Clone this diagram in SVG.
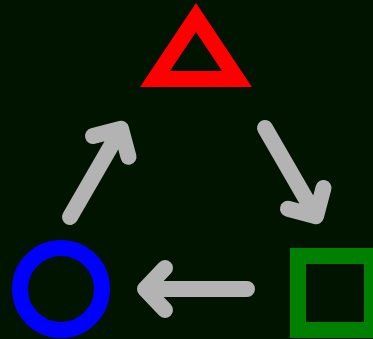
<svg xmlns="http://www.w3.org/2000/svg" width="373" height="339" viewBox="0 0 373 339">
<style>
.arrow{fill:none;stroke:#b3b3b3;stroke-width:16;stroke-linecap:round;stroke-linejoin:round}
</style>
<rect width="373" height="339" fill="#001400"/>
<g id="triangle"><polygon points="196,17.5 155,79 237,79" fill="none" stroke="#ff0000" stroke-width="16"/></g>
<g id="square"><rect x="298" y="256" width="74" height="74" fill="none" stroke="#008000" stroke-width="16"/></g>
<g id="circle"><circle cx="61" cy="289" r="41" fill="none" stroke="#0000ff" stroke-width="16"/></g>
<g id="connectors">
<path class="arrow" d="M265,128 L316,216.3 M323.5,188 L316,216.3 L288,208.8"/>
<path class="arrow" d="M247,289 L145,289 M165,268 L145,289 L165,310"/>
<path class="arrow" d="M70,217 L121,128.7 M93,136 L121,128.7 L128.5,156.7"/>
</g>
</svg>
